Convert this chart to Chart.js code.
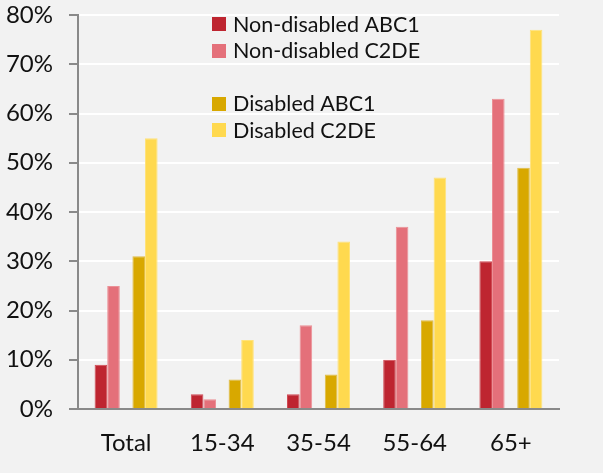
<!DOCTYPE html>
<html>
<head>
<meta charset="utf-8">
<script src="https://cdn.jsdelivr.net/npm/chart.js@4.4.1/dist/chart.umd.min.js"></script>
<style>
  html, body { margin: 0; padding: 0; background: #f2f2f2; }
  #wrap { width: 603px; height: 473px; position: relative; }
</style>
</head>
<body>
<div id="wrap"><canvas id="c"></canvas></div>
<script>
// Share of people in each group, by age band (%)
const categories = ['Total', '15-34', '35-54', '55-64', '65+'];
const nonDisabledABC1 = [9, 3, 3, 10, 30];
const nonDisabledC2DE = [25, 2, 17, 37, 63];
const disabledABC1 = [31, 6, 7, 18, 49];
const disabledC2DE = [55, 14, 34, 47, 77];
const yTicks = [0, 10, 20, 30, 40, 50, 60, 70, 80];

const FONT = 'Lato, "Liberation Sans", sans-serif';

// Legend drawn inside the plot, with an empty row separating the two pairs
const innerLegend = {
  id: 'innerLegend',
  afterDraw(chart) {
    const { ctx, chartArea } = chart;
    const x0 = chartArea.left + 134;
    let y = chartArea.top + 9;
    const rowH = 26.5;
    ctx.save();
    ctx.font = '21.5px ' + FONT;
    ctx.textBaseline = 'middle';
    ctx.textAlign = 'left';
    chart.data.datasets.forEach(ds => {
      if (ds.label) {
        ctx.fillStyle = ds.backgroundColor;
        ctx.fillRect(x0, Math.round(y - 7), 14, 14);
        ctx.fillStyle = '#111';
        ctx.fillText(ds.label, x0 + 21, y + 1);
      }
      y += rowH;
    });
    ctx.restore();
  }
};

new Chart(document.getElementById('c'), {
  type: 'bar',
  data: {
    labels: categories,
    datasets: [
      { label: 'Non-disabled ABC1', data: nonDisabledABC1, backgroundColor: '#BE2530', borderColor: '#CF4A53' },
      { label: 'Non-disabled C2DE', data: nonDisabledC2DE, backgroundColor: '#E4707A', borderColor: '#EB9096' },
      { label: '', data: [null, null, null, null, null], backgroundColor: 'rgba(0,0,0,0)' },
      { label: 'Disabled ABC1', data: disabledABC1, backgroundColor: '#D8A800', borderColor: '#E0BC45' },
      { label: 'Disabled C2DE', data: disabledC2DE, backgroundColor: '#FFD94F', borderColor: '#FFE27A' }
    ]
  },
  options: {
    responsive: true,
    maintainAspectRatio: false,
    animation: false,
    layout: { padding: { top: 15, right: 44, bottom: 0, left: 0 } },
    datasets: {
      bar: { categoryPercentage: 0.655, barPercentage: 1, borderWidth: 1, borderSkipped: 'bottom' }
    },
    plugins: { legend: { display: false }, tooltip: { enabled: false } },
    scales: {
      x: {
        grid: { display: true, color: 'rgba(0,0,0,0)', drawTicks: false },
        border: { display: true, color: '#898989', width: 2 },
        ticks: { color: '#111', font: { family: FONT, size: 24 }, padding: 20 },
        afterFit(scale) { scale.height = 64; }
      },
      y: {
        min: 0,
        max: 80,
        afterBuildTicks(scale) { scale.ticks = yTicks.map(v => ({ value: v })); },
        grid: { display: true, drawOnChartArea: true, color: '#ffffff', lineWidth: 2, tickColor: '#898989', tickLength: 9, tickWidth: 2 },
        border: { display: true, color: '#898989', width: 2 },
        ticks: {
          color: '#111',
          font: { family: FONT, size: 24 },
          padding: 16,
          callback: v => v + '%'
        },
        afterFit(scale) {
          scale.width = 78;
          scale.paddingTop = 0;
          scale.paddingBottom = 0;
        }
      }
    }
  },
  plugins: [innerLegend]
});
</script>
</body>
</html>
